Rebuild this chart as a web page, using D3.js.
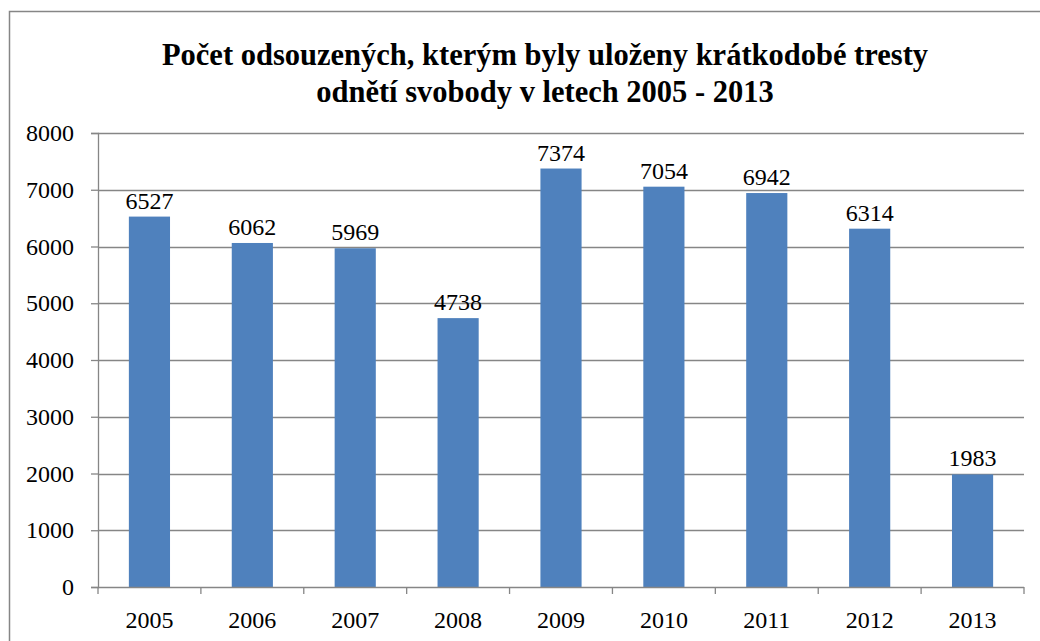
<!DOCTYPE html>
<html>
<head>
<meta charset="utf-8">
<script src="https://cdn.jsdelivr.net/npm/d3@7"></script>
<style>
  body { margin: 0; background: #fff; }
  svg text { font-family: "Liberation Serif", "Times New Roman", serif; }
</style>
</head>
<body>
<div id="chart"></div>
<script>
const years = ["2005", "2006", "2007", "2008", "2009", "2010", "2011", "2012", "2013"];
const counts = [6527, 6062, 5969, 4738, 7374, 7054, 6942, 6314, 1983];
const yTicks = [0, 1000, 2000, 3000, 4000, 5000, 6000, 7000, 8000];
const titleLines = ["Počet odsouzených, kterým byly uloženy krátkodobé tresty",
                    "odnětí svobody v letech 2005 - 2013"];

const W = 1040, H = 641;
const margin = { top: 133, right: 16, bottom: 54, left: 98 };
const width = W - margin.left - margin.right;
const height = H - margin.top - margin.bottom;

const svg = d3.select("#chart").append("svg")
    .attr("width", W)
    .attr("height", H);

// chart border (runs off the right and bottom edge)
svg.append("rect")
    .attr("x", 9.5).attr("y", 11.5)
    .attr("width", 1100).attr("height", 700)
    .attr("fill", "none")
    .attr("stroke", "#868686")
    .attr("stroke-width", 1.5);

// title
svg.append("text")
    .attr("x", 545)
    .attr("text-anchor", "middle")
    .style("font-size", "30.5px")
    .style("font-weight", "bold")
    .selectAll("tspan")
    .data(titleLines)
    .enter().append("tspan")
    .attr("x", 545)
    .attr("y", (d, i) => 65 + i * 37)
    .text(d => d);

const g = svg.append("g")
    .attr("transform", "translate(" + margin.left + "," + margin.top + ")");

const x = d3.scaleBand()
    .domain(years)
    .range([0, width])
    .paddingInner(0.6)
    .paddingOuter(0.3);

const xBand = d3.scaleBand().domain(years).range([0, width]);

const y = d3.scaleLinear()
    .domain([0, 8000])
    .range([height, 0]);

// gridlines
g.append("g")
    .selectAll("line")
    .data(yTicks.filter(d => d > 0))
    .enter().append("line")
    .attr("x1", 0).attr("x2", width)
    .attr("y1", d => Math.round(y(d)) + 0.5)
    .attr("y2", d => Math.round(y(d)) + 0.5)
    .attr("stroke", "#868686")
    .attr("stroke-width", 1.3);

// y axis
const yAxis = g.append("g")
    .attr("font-family", null)
    .attr("font-size", null)
    .call(d3.axisLeft(y).tickValues(yTicks).tickFormat(d3.format("d")).tickSize(7).tickPadding(17));
yAxis.attr("font-family", null).attr("font-size", null);
yAxis.selectAll("path, line").attr("stroke", "#868686").attr("stroke-width", 1.3);
yAxis.selectAll("text")
    .style("font-size", "24px")
    .style("font-family", "'Liberation Serif', 'Times New Roman', serif")
    .attr("fill", "#000");

// bars
g.selectAll(".bar")
    .data(counts)
    .enter().append("rect")
    .attr("class", "bar")
    .attr("x", (d, i) => x(years[i]))
    .attr("width", x.bandwidth())
    .attr("y", d => y(d))
    .attr("height", d => height - y(d))
    .attr("fill", "#4F81BD");

// value labels
g.selectAll(".val")
    .data(counts)
    .enter().append("text")
    .attr("class", "val")
    .attr("x", (d, i) => x(years[i]) + x.bandwidth() / 2)
    .attr("y", d => y(d) - 8)
    .attr("text-anchor", "middle")
    .style("font-size", "24px")
    .text(d => d);

// x axis with ticks at category boundaries
const xAxis = g.append("g")
    .attr("transform", "translate(0," + height + ")");
xAxis.append("line")
    .attr("x1", 0).attr("x2", width)
    .attr("y1", 0.5).attr("y2", 0.5)
    .attr("stroke", "#868686").attr("stroke-width", 1.3);
xAxis.selectAll(".tick")
    .data(years.concat(["end"]))
    .enter().append("line")
    .attr("x1", (d, i) => i < years.length ? xBand(d) : width)
    .attr("x2", (d, i) => i < years.length ? xBand(d) : width)
    .attr("y1", 0).attr("y2", 7)
    .attr("stroke", "#868686").attr("stroke-width", 1.3);
xAxis.selectAll(".lbl")
    .data(years)
    .enter().append("text")
    .attr("x", d => xBand(d) + xBand.bandwidth() / 2)
    .attr("y", 41)
    .attr("text-anchor", "middle")
    .style("font-size", "24px")
    .text(d => d);
</script>
</body>
</html>
